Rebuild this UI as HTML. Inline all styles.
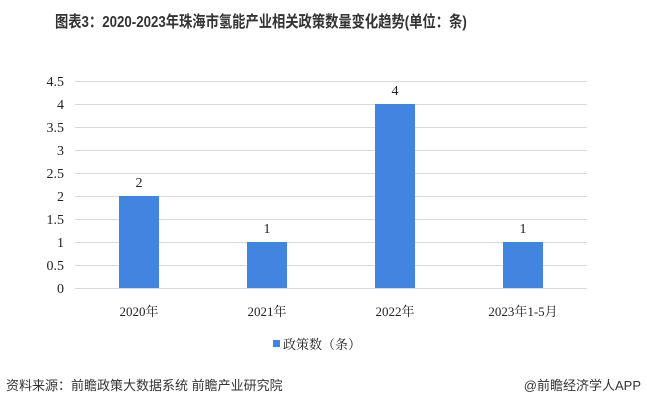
<!DOCTYPE html>
<html><head><meta charset="utf-8"><style>
body{margin:0;width:647px;height:406px;background:#fff;overflow:hidden;font-family:"Liberation Serif","Noto Serif CJK SC",serif;color:#222}
.t{position:absolute;white-space:nowrap}
</style></head><body>
<div class="t" style="left:55px;top:8px;font:bold 16px 'Liberation Sans','Noto Sans CJK SC',sans-serif;color:#333;transform:scaleX(0.83);transform-origin:0 0">图表3：2020-2023年珠海市氢能产业相关政策数量变化趋势(单位：条)</div>
<svg width="647" height="406" style="position:absolute;left:0;top:0" font-family="Liberation Serif, Noto Serif CJK SC, serif" font-size="14" fill="#222">
<g stroke="#d9d9d9" stroke-width="1">
<line x1="75" x2="587" y1="81.5" y2="81.5"/><line x1="75" x2="587" y1="104.5" y2="104.5"/><line x1="75" x2="587" y1="127.5" y2="127.5"/><line x1="75" x2="587" y1="150.5" y2="150.5"/><line x1="75" x2="587" y1="173.5" y2="173.5"/><line x1="75" x2="587" y1="196.5" y2="196.5"/><line x1="75" x2="587" y1="219.5" y2="219.5"/><line x1="75" x2="587" y1="242.5" y2="242.5"/><line x1="75" x2="587" y1="265.5" y2="265.5"/><line x1="75" x2="587" y1="288.5" y2="288.5"/>
</g>
<g text-anchor="end">
<text x="64" y="86">4.5</text><text x="64" y="109">4</text><text x="64" y="132">3.5</text><text x="64" y="155">3</text><text x="64" y="178">2.5</text><text x="64" y="201">2</text><text x="64" y="224">1.5</text><text x="64" y="247">1</text><text x="64" y="270">0.5</text><text x="64" y="293">0</text>
</g>
<g fill="#4285e0">
<rect x="119" y="196" width="40" height="92"/><rect x="247" y="242" width="40" height="46"/><rect x="375" y="104" width="40" height="184"/><rect x="503" y="242" width="40" height="46"/>
</g>
<g text-anchor="middle">
<text x="139" y="187">2</text><text x="267" y="233">1</text><text x="395" y="95">4</text><text x="523" y="233">1</text>
<text x="139" y="316" font-size="13">2020年</text><text x="267" y="316" font-size="13">2021年</text><text x="395" y="316" font-size="13">2022年</text><text x="523" y="316" font-size="13">2023年1-5月</text>
</g>
<rect x="273" y="340" width="7" height="7" fill="#4285e0"/>
<text x="283" y="349" font-size="13">政策数（条）</text>
</svg>
<div class="t" style="left:6px;top:375px;font:13px 'Liberation Sans','Noto Sans CJK SC',sans-serif;color:#333">资料来源：前瞻政策大数据系统 前瞻产业研究院</div>
<div class="t" style="right:6px;top:375px;font:13px 'Liberation Sans','Noto Sans CJK SC',sans-serif;color:#333">@前瞻经济学人APP</div>
</body></html>
